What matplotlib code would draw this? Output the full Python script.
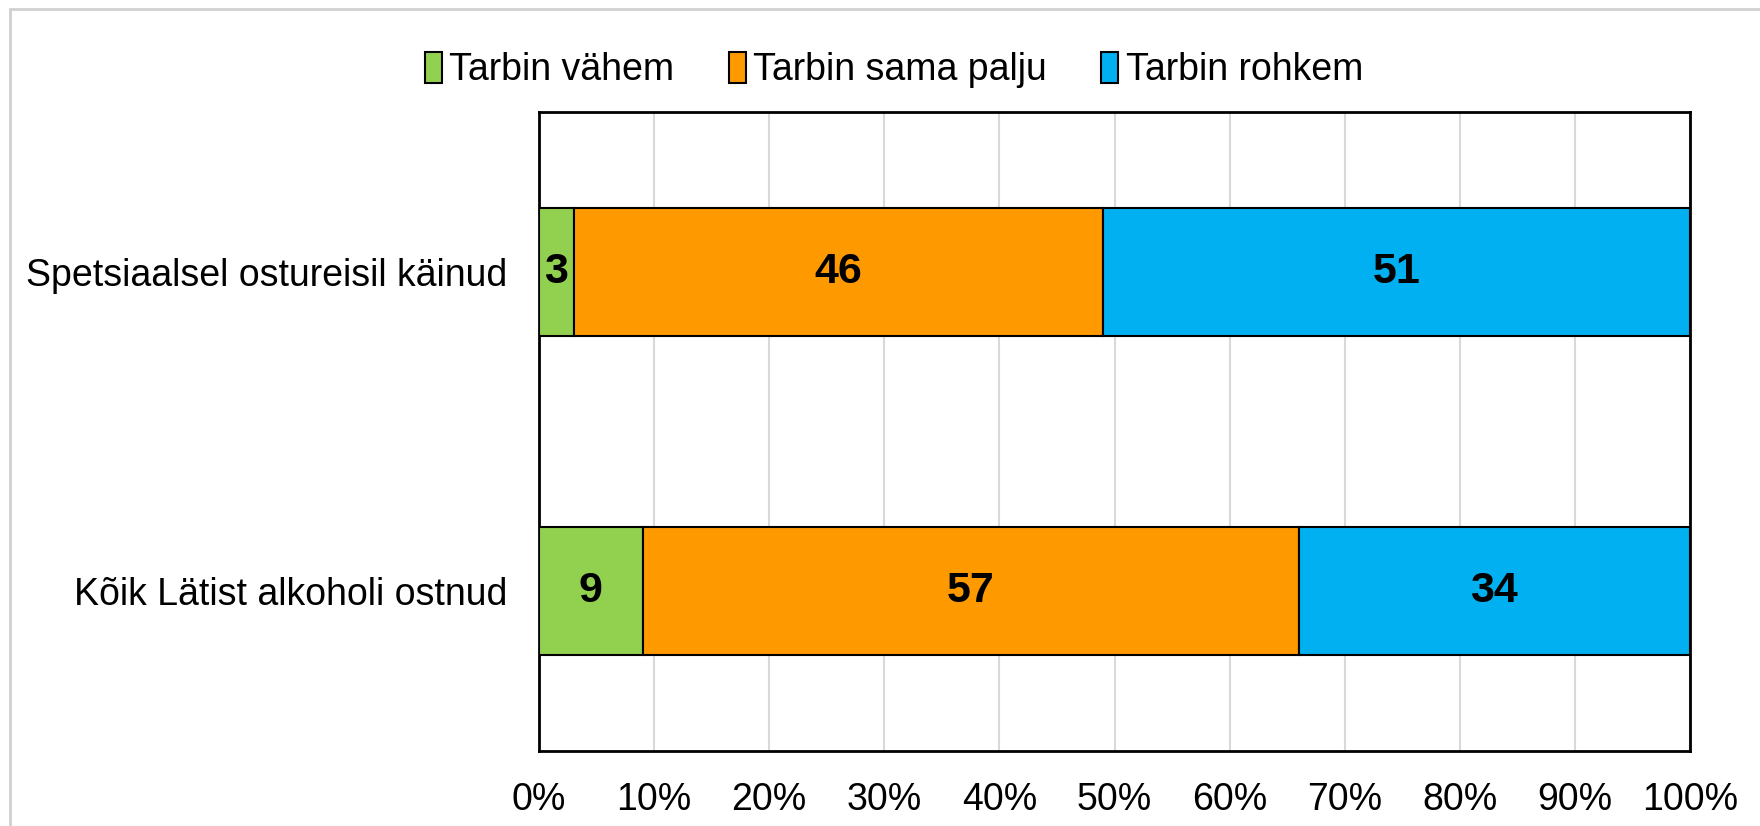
import matplotlib.pyplot as plt
from matplotlib.patches import Rectangle

plt.rcParams['font.family'] = ['Liberation Sans', 'DejaVu Sans']

categories = ['Spetsiaalsel ostureisil käinud', 'Kõik Lätist alkoholi ostnud']
series = ['Tarbin vähem', 'Tarbin sama palju', 'Tarbin rohkem']
values = [
    [3, 9],
    [46, 57],
    [51, 34],
]
colors = ['#92D050', '#FF9900', '#00B0F0']
ticks = [0, 10, 20, 30, 40, 50, 60, 70, 80, 90, 100]
tick_labels = ['%d%%' % t for t in ticks]

W, H = 1760, 826
fig = plt.figure(figsize=(W / 100, H / 100), dpi=100)
ax = fig.add_axes([539 / W, 1 - 751 / H, (1690 - 539) / W, (751 - 112) / H])

# outer chart border (only top/left visible)
fig.patches.append(Rectangle((10 / W, -0.05), 1.2, 1 - 9 / H + 0.05, transform=fig.transFigure,
                             fill=False, edgecolor='#d0d0d0', linewidth=2))

ypos = [0, 1]
left = [0, 0]
for name, vals, col in zip(series, values, colors):
    bars = ax.barh(ypos, vals, left=left, height=0.4, color=col, edgecolor='black',
                   linewidth=1.5, label=name, zorder=3)
    for b, v in zip(bars, vals):
        ax.text(b.get_x() + b.get_width() / 2, b.get_y() + b.get_height() / 2, str(v),
                ha='center', va='center', fontsize=31, fontweight='bold', zorder=4)
    left = [l + v for l, v in zip(left, vals)]

ax.set_xlim(0, 100)
ax.set_ylim(1.5, -0.5)
ax.set_xticks(ticks)
ax.set_xticklabels(tick_labels)
ax.set_yticks(ypos)
ax.set_yticklabels(categories)
ax.tick_params(axis='both', length=0, labelsize=27)
ax.tick_params(axis='x', pad=22)
ax.tick_params(axis='y', pad=23)
ax.grid(axis='x', color='#d9d9d9', linewidth=1.5, zorder=0)
for s in ax.spines.values():
    s.set_linewidth(2)
    s.set_color('black')

leg = fig.legend(loc='center', bbox_to_anchor=(0.508, 1 - 70 / H), ncol=3, frameon=False,
                 fontsize=27, handlelength=0.45, handleheight=0.9, handletextpad=0.2,
                 columnspacing=1.45)

fig.savefig('out.png', dpi=100)
